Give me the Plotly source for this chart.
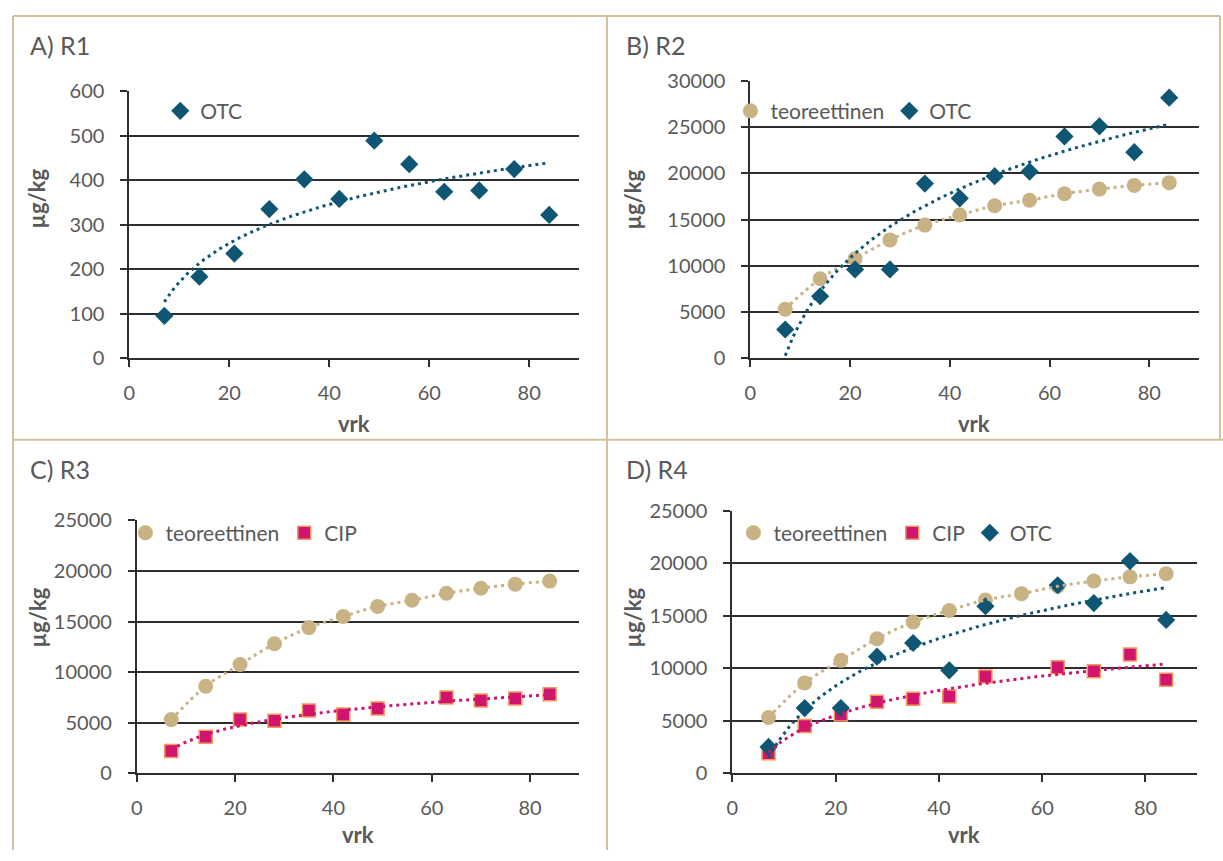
import numpy as np
import plotly.graph_objects as go

# Sampling days (vrk)
days = [7, 14, 21, 28, 35, 42, 49, 56, 63, 70, 77, 84]

# Measured concentrations, µg/kg
r1_otc = [95, 183, 235, 335, 402, 358, 489, 436, 374, 377, 425, 322]
teoreettinen = [5300, 8600, 10750, 12800, 14400, 15500, 16500, 17100, 17800, 18300, 18700, 19000]
r2_otc = [3100, 6700, 9600, 9600, 18900, 17300, 19700, 20200, 24000, 25100, 22300, 28200]
r3_cip = [2200, 3600, 5300, 5200, 6200, 5800, 6400, None, 7500, 7200, 7400, 7800]
r4_cip = [1900, 4500, 5600, 6800, 7100, 7300, 9200, None, 10100, 9700, 11300, 8900]
r4_otc = [2500, 6200, 6200, 11100, 12400, 9800, 15900, None, 17900, 16200, 20200, 14600]

panel_titles = ["A) R1", "B) R2", "C) R3", "D) R4"]
x_ticks = [0, 20, 40, 60, 80]

W, H = 1223, 861
FONT = "Lato"
GREY = "#595959"
DARK = "#2e2e2e"
FRAME = "#D3C19C"
C_OTC = "#0E5673"
C_TEO = "#C9B283"
C_CIP = "#D0156F"
C_CIP_EDGE = "#F39A5C"


def px_x(v):
    return v / W


def px_y(v):
    return 1 - v / H


def log_trend(x, y):
    pts = [(a, b) for a, b in zip(x, y) if b is not None]
    xs = np.array([p[0] for p in pts], dtype=float)
    ys = np.array([p[1] for p in pts], dtype=float)
    slope, icpt = np.polyfit(np.log(xs), ys, 1)
    grid = np.linspace(xs.min(), xs.max(), 150)
    return grid, slope * np.log(grid) + icpt


fig = go.Figure()

series_style = {
    "teoreettinen": dict(symbol="circle", size=15, color=C_TEO, line=dict(width=0)),
    "CIP": dict(symbol="square", size=13, color=C_CIP, line=dict(width=1.5, color=C_CIP_EDGE)),
    "OTC": dict(symbol="diamond", size=14, color=C_OTC, line=dict(width=0)),
}
trend_color = {"teoreettinen": C_TEO, "CIP": C_CIP, "OTC": C_OTC}

panels = [
    # (axis suffix, legend id, series list)
    ("", "legend", [("OTC", r1_otc)]),
    ("2", "legend2", [("teoreettinen", teoreettinen), ("OTC", r2_otc)]),
    ("3", "legend3", [("teoreettinen", teoreettinen), ("CIP", r3_cip)]),
    ("4", "legend4", [("teoreettinen", teoreettinen), ("CIP", r4_cip), ("OTC", r4_otc)]),
]

DOT = "3px,4px"

for suf, leg, series in panels:
    xa, ya = "x" + suf, "y" + suf
    for name, vals in series:
        fig.add_trace(go.Scatter(
            x=days, y=vals, mode="markers", name=name,
            marker=series_style[name], xaxis=xa, yaxis=ya, legend=leg,
        ))
    for name, vals in series:
        if name == "teoreettinen":
            fig.add_trace(go.Scatter(
                x=days, y=vals, mode="lines", showlegend=False,
                line=dict(color=trend_color[name], width=3, dash=DOT, shape="spline"),
                xaxis=xa, yaxis=ya, hoverinfo="skip",
            ))
        else:
            tx, ty = log_trend(days, vals)
            fig.add_trace(go.Scatter(
                x=tx, y=ty, mode="lines", showlegend=False,
                line=dict(color=trend_color[name], width=3, dash=DOT),
                xaxis=xa, yaxis=ya, hoverinfo="skip",
            ))

# Plot-area placement in pixels: (left, right, top, bottom), y range max, y step
geom = [
    (124, 576, 80.5, 355, 600, 100),
    (748, 1199, 70, 355, 30000, 5000),
    (131.5, 576, 522, 782, 25000, 5000),
    (730, 1197, 512, 782, 25000, 5000),
]

tickfont = dict(family=FONT, size=20, color=GREY)
layout = dict(
    width=W, height=H, margin=dict(l=0, r=0, t=0, b=0),
    paper_bgcolor="white", plot_bgcolor="white",
    font=dict(family=FONT, color=GREY),
)

for i, (l, r, t, b, ymax, dy) in enumerate(geom):
    n = "" if i == 0 else str(i + 1)
    layout["xaxis" + n] = dict(
        domain=[px_x(l), px_x(r)], anchor="y" + n, range=[0, 90],
        tickmode="array", tickvals=x_ticks, ticks="outside", ticklen=7, tickwidth=2,
        tickcolor=DARK, showline=True, linecolor=DARK, linewidth=2,
        showgrid=False, zeroline=False, tickfont=tickfont, ticklabelstandoff=9,
    )
    layout["yaxis" + n] = dict(
        domain=[px_y(b), px_y(t)], anchor="x" + n, range=[0, ymax], dtick=dy,
        tickformat="d",
        ticks="outside", ticklen=7, tickwidth=2, tickcolor=DARK,
        showline=True, linecolor=DARK, linewidth=2,
        showgrid=True, gridcolor=DARK, gridwidth=2, zeroline=False,
        tickfont=tickfont, ticklabelstandoff=12,
    )
    # inward half of the crossing x ticks
    layout["xaxis" + str(i + 5)] = dict(
        overlaying="x" + n, anchor="y" + n, range=[0, 90],
        tickmode="array", tickvals=x_ticks, ticks="inside", ticklen=7, tickwidth=2,
        tickcolor=DARK, showticklabels=False, showgrid=False, zeroline=False,
        showline=False,
    )

legend_common = dict(
    orientation="h", xanchor="left", yanchor="middle", bgcolor="rgba(0,0,0,0)",
    font=dict(family=FONT, size=21, color=GREY), itemclick=False,
)
layout["legend"] = dict(legend_common, x=px_x(155), y=px_y(101))
layout["legend2"] = dict(legend_common, x=px_x(728), y=px_y(101))
layout["legend3"] = dict(legend_common, x=px_x(120), y=px_y(535))
layout["legend4"] = dict(legend_common, x=px_x(731), y=px_y(535))

annotations = []
title_pos = [(22, 33), (621, 33), (22, 469), (621, 469)]
for txt, (x0, y0) in zip(panel_titles, title_pos):
    annotations.append(dict(
        text=txt, x=px_x(x0), y=px_y(y0), xref="paper", yref="paper",
        xanchor="left", yanchor="middle", showarrow=False,
        font=dict(family=FONT, size=25, color=GREY),
    ))
for x0, y0 in [(350, 422), (973, 422), (354, 845), (963, 845)]:
    annotations.append(dict(
        text="<b>vrk</b>", x=px_x(x0), y=px_y(y0), xref="paper", yref="paper",
        xanchor="center", yanchor="middle", showarrow=False,
        font=dict(family=FONT, size=22, color=GREY),
    ))
for x0, y0 in [(31, 191), (630, 192), (32, 622), (630, 622)]:
    annotations.append(dict(
        text="<b>µg/kg</b>", x=px_x(x0), y=px_y(y0), xref="paper", yref="paper",
        xanchor="center", yanchor="middle", showarrow=False, textangle=-90,
        font=dict(family=FONT, size=22, color=GREY),
    ))
layout["annotations"] = annotations

# Panel frame lines
frame = [
    (7, 3, 1220, 3), (7, 3, 7, 861), (604, 3, 604, 861),
    (7, 439, 1223, 439), (1220, 3, 1220, 439),
]
layout["shapes"] = [
    dict(type="line", xref="paper", yref="paper",
         x0=px_x(a), y0=px_y(b), x1=px_x(c), y1=px_y(d),
         line=dict(color=FRAME, width=2))
    for a, b, c, d in frame
]

fig.update_layout(**layout)
fig.write_html("out.html")
